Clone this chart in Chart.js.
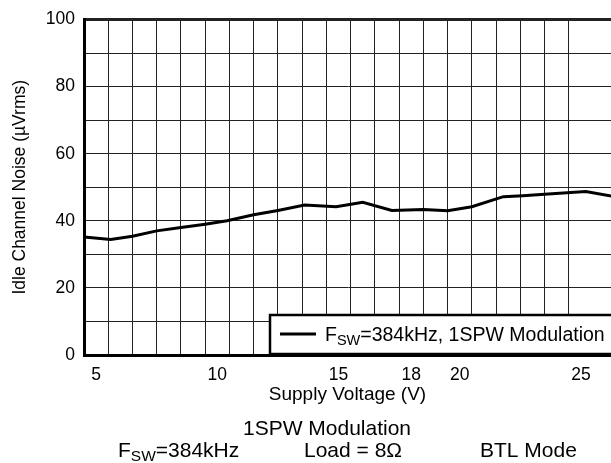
<!DOCTYPE html>
<html lang="en">
<head>
    <meta charset="UTF-8">
    <title>Idle Channel Noise vs Supply Voltage</title>
    <script src="https://cdn.jsdelivr.net/npm/chart.js"></script>
    <style>
        body { margin: 0; background: #fff; }
        #wrap { width: 611px; height: 463px; }
    </style>
</head>
<body>
    <div id="wrap">
        <canvas id="noiseChart" width="611" height="463"></canvas>
    </div>

    <script>
        // values
        const supplyVoltage = [4.5, 5.6, 6.5, 7.5, 8.5, 9.5, 10.4, 11.5, 12.5, 13.6, 14.9, 16.0, 17.2, 18.5, 19.5, 20.5, 21.8, 22.6, 23.5, 25.2, 26.3];
        const noiseUVrms = [35.2, 34.4, 35.4, 37.0, 38.0, 39.0, 40.0, 41.8, 43.1, 44.7, 44.2, 45.5, 43.1, 43.4, 43.0, 44.2, 47.2, 47.5, 47.9, 48.7, 47.3];
        const voltTickLabels = [5, 10, 15, 18, 20, 25];
        const noiseTickLabels = [0, 20, 40, 60, 80, 100];

        const FONT = "'Liberation Sans', Arial, sans-serif";

        // draws the boxed legend and the condition notes under the axis
        const notesPlugin = {
            id: 'notes',
            afterDraw(chart) {
                const ctx = chart.ctx;
                ctx.save();

                // legend box (its right side runs off the picture)
                ctx.fillStyle = '#fff';
                ctx.fillRect(270, 315, 380, 39);
                ctx.strokeStyle = '#000';
                ctx.lineWidth = 2.5;
                ctx.strokeRect(270, 315, 380, 39);

                ctx.lineWidth = 3;
                ctx.beginPath();
                ctx.moveTo(280, 334);
                ctx.lineTo(316, 334);
                ctx.stroke();

                ctx.fillStyle = '#000';
                ctx.textBaseline = 'alphabetic';
                ctx.textAlign = 'left';
                drawSub(ctx, 325, 341, 'F', 'SW', '=384kHz, 1SPW Modulation', 19.5, 14.5);

                // notes
                ctx.font = '21px ' + FONT;
                ctx.textAlign = 'center';
                ctx.fillText('1SPW Modulation', 327, 435);
                ctx.textAlign = 'left';
                drawSub(ctx, 118, 456.5, 'F', 'SW', '=384kHz', 21, 15.5);
                ctx.textAlign = 'center';
                ctx.font = '21px ' + FONT;
                ctx.fillText('Load = 8\u03A9', 353, 456.5);
                ctx.textAlign = 'left';
                ctx.fillText('BTL Mode', 480, 456.5);

                ctx.restore();
            }
        };

        function drawSub(ctx, x, y, main, sub, rest, size, subSize) {
            ctx.font = size + 'px ' + FONT;
            ctx.fillText(main, x, y);
            x += ctx.measureText(main).width;
            ctx.font = subSize + 'px ' + FONT;
            ctx.fillText(sub, x, y + 4);
            x += ctx.measureText(sub).width;
            ctx.font = size + 'px ' + FONT;
            ctx.fillText(rest, x, y);
        }

        const points = supplyVoltage.map((v, i) => ({ x: v, y: noiseUVrms[i] }));

        new Chart(document.getElementById('noiseChart'), {
            type: 'line',
            data: {
                datasets: [{
                    label: 'FSW=384kHz, 1SPW Modulation',
                    data: points,
                    borderColor: '#000',
                    borderWidth: 3,
                    pointRadius: 0,
                    tension: 0,
                    fill: false
                }]
            },
            options: {
                responsive: false,
                animation: false,
                devicePixelRatio: 1,
                layout: { padding: { left: 0, right: 0, top: 16, bottom: 0 } },
                plugins: {
                    legend: { display: false },
                    tooltip: { enabled: false }
                },
                scales: {
                    x: {
                        type: 'linear',
                        min: 4.5,
                        max: 26.24,
                        afterBuildTicks(scale) {
                            const ticks = [];
                            for (let v = 4.5; v <= 25; v += 0.5) ticks.push({ value: v });
                            scale.ticks = ticks;
                        },
                        afterFit(scale) { scale.height = 108; },
                        ticks: {
                            autoSkip: false,
                            maxRotation: 0,
                            padding: 10,
                            color: '#000',
                            font: { family: FONT, size: 17.5 },
                            callback: (v) => voltTickLabels.includes(v) ? String(v) : ''
                        },
                        grid: {
                            drawTicks: false,
                            color: (c) => (c.tick && c.tick.value % 1 !== 0 && c.tick.value < 25) ? '#222' : 'rgba(0,0,0,0)',
                            lineWidth: 1
                        },
                        border: { display: true, color: '#000', width: 3 },
                        title: {
                            display: true,
                            text: 'Supply Voltage (V)',
                            color: '#000',
                            font: { family: FONT, size: 19 },
                            padding: { top: 0, bottom: 57 }
                        }
                    },
                    y: {
                        min: 0,
                        max: 100,
                        afterFit(scale) { scale.width = 84; },
                        ticks: {
                            stepSize: 10,
                            padding: 9,
                            color: '#000',
                            font: { family: FONT, size: 17.5 },
                            callback: (v) => noiseTickLabels.includes(v) ? String(v) : ''
                        },
                        grid: {
                            drawTicks: false,
                            color: '#222',
                            lineWidth: (c) => (c.tick && c.tick.value === 100) ? 3 : 1
                        },
                        border: { display: true, color: '#000', width: 3 },
                        title: {
                            display: true,
                            text: 'Idle Channel Noise (\u00B5Vrms)',
                            color: '#000',
                            font: { family: FONT, size: 17.5 },
                            padding: { top: 9.5, bottom: 0 }
                        }
                    }
                }
            },
            plugins: [notesPlugin]
        });
    </script>
</body>
</html>
